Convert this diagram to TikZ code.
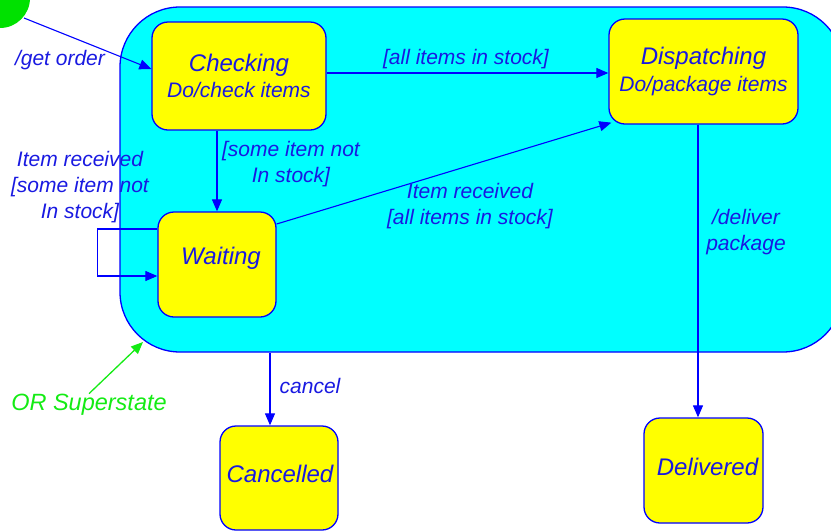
\documentclass[tikz,border=0pt]{standalone}
\usepackage{fontspec}
\setmainfont{Liberation Sans}
\usetikzlibrary{arrows.meta}
\definecolor{ink}{RGB}{0,0,255}
\definecolor{txt}{RGB}{25,25,225}
\definecolor{stfill}{RGB}{255,255,0}
\definecolor{superfill}{RGB}{0,255,255}
\definecolor{startgreen}{RGB}{0,225,0}
\definecolor{notegreen}{RGB}{20,235,20}
\newcommand{\titlefont}{\fontsize{24}{27}\selectfont}
\newcommand{\subfont}{\fontsize{21}{27}\selectfont}
\begin{document}
\begin{tikzpicture}[x=1pt,y=-1pt,
  statebox/.style={draw=ink, fill=stfill, line width=1.3pt, rounded corners=16pt,
    align=center, text=txt, font=\itshape\subfont, inner sep=0pt},
  superbox/.style={draw=ink, fill=superfill, line width=1.3pt, rounded corners=60pt,
    inner sep=0pt},
  lbl/.style={text=txt, font=\fontsize{21}{26}\selectfont\itshape, align=center, inner sep=0pt},
  arr/.style={draw=ink, line width=1.1pt, -{Triangle[length=12pt,width=10pt]}},
  notearr/.style={draw=notegreen, line width=1.3pt, -{Triangle[length=12pt,width=10pt]}}]
\useasboundingbox (0,0) rectangle (831,531);

% composite (OR) superstate, running past the right edge
\node[superbox, minimum width=723pt, minimum height=345pt] (super) at (481.5,179.5) {};

% initial pseudostate
\fill[startgreen] (0,-2) circle (30pt);
\coordinate (start) at (24,18);

% states
\node[statebox, minimum width=174pt, minimum height=108pt] (chk) at (239,76)
  {{\titlefont Checking}\\[-1pt]Do/check items};
\node[statebox, minimum width=189pt, minimum height=105pt] (disp) at (703.5,71.5)
  {{\titlefont Dispatching}\\Do/package items};
\node[statebox, minimum width=118pt, minimum height=105pt,
  text height=18pt, text depth=18pt] (wait) at (217,264.5)
  {\hspace*{8pt}{\titlefont Waiting}};
\node[statebox, minimum width=118pt, minimum height=104pt,
  text height=18pt, text depth=9pt] (canc) at (279,478)
  {\hspace*{2pt}{\titlefont Cancelled}};
\node[statebox, minimum width=119pt, minimum height=105pt,
  text height=18pt, text depth=8pt] (deliv) at (703.5,470.5)
  {\hspace*{8pt}{\titlefont Delivered}};

% transitions
\draw[arr] (start) -- ([yshift=7pt]chk.west);
\draw[arr] ([yshift=3pt]chk.east) -- ([yshift=-1.5pt]disp.west);
\draw[arr] (chk.south -| wait.north) -- (wait.north);
\draw[arr] ([yshift=40.5pt]wait.east) -- ([xshift=3pt,yshift=2pt]disp.south west);
\draw[arr] ([yshift=35.5pt]wait.west) -- ++(-60,0) |- ([yshift=-11.5pt]wait.west);
\draw[arr] ([xshift=-5.5pt]disp.south) -- ([xshift=-5.5pt]deliv.north);
\draw[arr] ([xshift=-9pt]canc.north |- super.south) -- ([xshift=-9pt]canc.north);

% transition labels
\node[lbl] (lgo) at (60,60) {/get order};
\node[lbl] (lall) at (466,59) {[all items in stock]};
\node[lbl] (lsome) at (291,164.5) {[some item not\\In stock]};
\node[lbl] (lrecall) at (470,206.5) {Item received\\{}[all items in stock]};
\node[lbl] (lrecsome) at (80,187) {Item received\\{}[some item not\\In stock]};
\node[lbl] (ldel) at (746,232) {/deliver\\package};
\node[lbl] (lcan) at (310,386) {cancel};

% note pointing at the superstate
\node[lbl, text=notegreen, font=\fontsize{23.5}{26}\selectfont\itshape] (ornote) at (89,404.5) {OR Superstate};
\coordinate (orpt) at (143,342);
\draw[notearr] (ornote.north) -- (orpt);
\end{tikzpicture}
\end{document}
